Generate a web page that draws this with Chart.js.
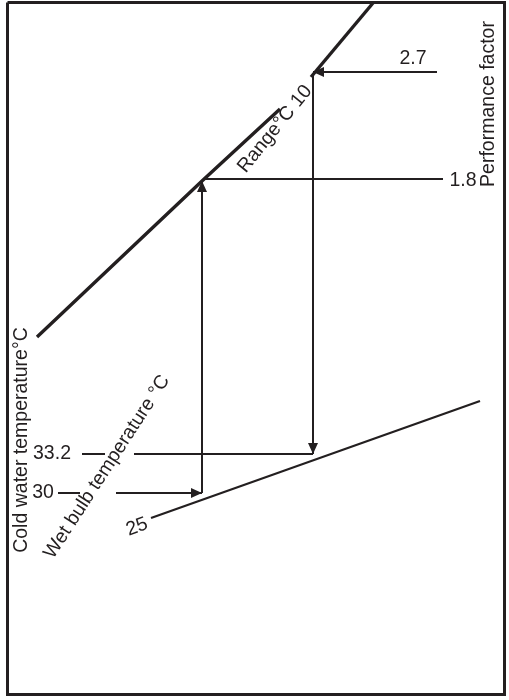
<!DOCTYPE html>
<html>
<head>
<meta charset="utf-8">
<script src="https://cdn.jsdelivr.net/npm/chart.js@4"></script>
<style>
  html, body { margin: 0; padding: 0; background: #fff; }
  #wrap { width: 509px; height: 700px; }
</style>
</head>
<body>
<div id="wrap"><canvas id="nomo"></canvas></div>
<script>
// Nomogram lines, in diagram units (x right, y down)
const frameX = [7.5, 504.5, 504.5, 7.5, 7.5];
const frameY = [2.5, 2.5, 694.5, 694.5, 2.5];

// Range °C line (broken where the "10" label sits)
const rangeLowX = [37, 202, 280];
const rangeLowY = [337, 181, 109];
const rangeHighX = [311, 373];
const rangeHighY = [77, 3];

// Wet bulb temperature line
const wetBulbX = [151, 480];
const wetBulbY = [518, 401];

// Worked example: 30 -> up to range -> 1.8
const wbt30X = [116, 202];
const wbt30Y = [493, 493];
const rise30X = [202, 202];
const rise30Y = [493, 181];
const pf18X = [203, 443];
const pf18Y = [179, 179];

// 2.7 -> left to range -> down to 33.2
const pf27X = [437, 313];
const pf27Y = [72, 72];
const drop27X = [313, 313];
const drop27Y = [75, 454];
const cwt332X = [134, 313];
const cwt332Y = [454, 454];

// little tick dashes next to the scale values
const dash332X = [82, 105];
const dash332Y = [454, 454];
const dash30X = [58, 80];
const dash30Y = [493, 493];

// labels: text, anchor, rotation (deg)
const labelText = ['2.7', '1.8', 'Performance factor', 'Range\u00B0C 10',
  'Cold water temperature\u00B0C', 'Wet bulb temperature \u00B0C', '33.2', '30', '25'];
const labelX = [413, 463, 489, 275, 22, 107, 52, 43, 137];
const labelY = [59, 181, 104, 129, 440, 467, 454, 493, 527];
const labelRot = [0, 0, -90, -51, -90, -57, 0, 0, -20];

const ink = '#231f20';

function pts(xs, ys) {
  return xs.map((x, i) => ({ x: x, y: ys[i] }));
}

function seg(xs, ys, width, arrow) {
  return {
    data: pts(xs, ys),
    showLine: true,
    borderColor: ink,
    borderWidth: width,
    pointRadius: 0,
    fill: false,
    borderCapStyle: 'butt',
    arrowEnd: !!arrow
  };
}

// arrow heads at the end of flagged datasets
const arrowHeads = {
  id: 'arrowHeads',
  afterDatasetsDraw(chart) {
    const c = chart.ctx;
    chart.data.datasets.forEach((ds, i) => {
      if (!ds.arrowEnd) return;
      const el = chart.getDatasetMeta(i).data;
      const a = el[el.length - 2], b = el[el.length - 1];
      const ang = Math.atan2(b.y - a.y, b.x - a.x);
      const len = 11, half = 5;
      c.save();
      c.translate(b.x, b.y);
      c.rotate(ang);
      c.beginPath();
      c.moveTo(0, 0);
      c.lineTo(-len, -half);
      c.lineTo(-len, half);
      c.closePath();
      c.fillStyle = ink;
      c.fill();
      c.restore();
    });
  }
};

// text labels placed through the scales
const diagramText = {
  id: 'diagramText',
  afterDraw(chart) {
    const c = chart.ctx;
    const sx = chart.scales.x, sy = chart.scales.y;
    c.save();
    c.fillStyle = ink;
    c.font = '19.5px "Liberation Sans", Arial, sans-serif';
    c.textAlign = 'center';
    c.textBaseline = 'middle';
    labelText.forEach((t, i) => {
      c.save();
      c.translate(sx.getPixelForValue(labelX[i]), sy.getPixelForValue(labelY[i]));
      c.rotate(labelRot[i] * Math.PI / 180);
      c.fillText(t, 0, 0);
      c.restore();
    });
    c.restore();
  }
};

const chart = new Chart(document.getElementById('nomo'), {
  type: 'scatter',
  data: {
    datasets: [
      Object.assign(seg(frameX, frameY, 3), { borderJoinStyle: 'miter' }),
      seg(rangeLowX, rangeLowY, 3.4),
      seg(rangeHighX, rangeHighY, 3.4),
      seg(wetBulbX, wetBulbY, 2.2),
      seg(wbt30X, wbt30Y, 2, true),
      seg(rise30X, rise30Y, 2, true),
      seg(pf18X, pf18Y, 2),
      seg(pf27X, pf27Y, 2, true),
      seg(drop27X, drop27Y, 2, true),
      seg(cwt332X, cwt332Y, 2),
      seg(dash332X, dash332Y, 2),
      seg(dash30X, dash30Y, 2)
    ]
  },
  options: {
    responsive: true,
    maintainAspectRatio: false,
    animation: false,
    layout: { padding: 0 },
    scales: {
      x: { type: 'linear', min: 0, max: 509, display: false },
      y: { type: 'linear', min: 0, max: 700, reverse: true, display: false }
    },
    plugins: {
      legend: { display: false },
      tooltip: { enabled: false }
    }
  },
  plugins: [arrowHeads, diagramText]
});
</script>
</body>
</html>
